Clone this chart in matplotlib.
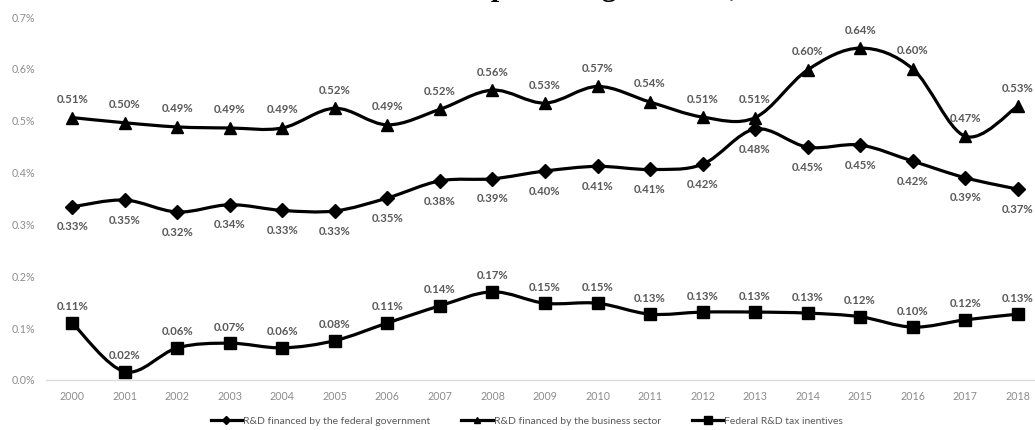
import numpy as np
import matplotlib
matplotlib.use("Agg")
import matplotlib.pyplot as plt
from matplotlib.path import Path
from matplotlib.patches import PathPatch
from matplotlib.lines import Line2D
from matplotlib.ticker import FuncFormatter

years = [str(y) for y in range(2000, 2019)]

# shares of GDP, in percent
gov = [0.334, 0.347, 0.324, 0.338, 0.327, 0.326, 0.351, 0.384, 0.388, 0.403,
       0.412, 0.406, 0.416, 0.484, 0.449, 0.453, 0.422, 0.390, 0.368]
business = [0.506, 0.496, 0.488, 0.486, 0.486, 0.524, 0.492, 0.522, 0.559, 0.534,
            0.566, 0.536, 0.507, 0.506, 0.598, 0.640, 0.600, 0.470, 0.528]
tax = [0.110, 0.016, 0.062, 0.071, 0.062, 0.076, 0.110, 0.143, 0.170, 0.148,
       0.148, 0.127, 0.131, 0.131, 0.129, 0.122, 0.102, 0.116, 0.127]

series_names = ["R&D financed by the federal government",
                "R&D financed by the business sector",
                "Federal R&D tax inentives"]

LABEL_FONT = "Lato"
LABEL_COLOR = "#595959"


def smooth_path(x, y):
    # smoothed line: bezier segments with catmull-rom style tangents
    pts = np.column_stack([x, y]).astype(float)
    n = len(pts)
    verts = [pts[0]]
    codes = [Path.MOVETO]
    for i in range(n - 1):
        p0 = pts[i - 1] if i > 0 else pts[i]
        p1 = pts[i]
        p2 = pts[i + 1]
        p3 = pts[i + 2] if i + 2 < n else pts[i + 1]
        verts += [p1 + (p2 - p0) / 6.0, p2 - (p3 - p1) / 6.0, p2]
        codes += [Path.CURVE4] * 3
    return Path(verts, codes)


fig = plt.figure(figsize=(10.35, 4.3), dpi=100)
ax = fig.add_axes([46 / 1035, 50 / 430, 998 / 1035, 363 / 430])

x = np.arange(len(years))
styles = [(gov, "D", 7, -14.5), (business, "^", 8, 13), (tax, "s", 8.5, 11.5)]
for vals, mk, ms, dy in styles:
    ax.add_patch(PathPatch(smooth_path(x, vals), fill=False, edgecolor="black",
                           lw=2.3, capstyle="round", joinstyle="round", zorder=3))
    ax.plot(x, vals, ls="none", marker=mk, ms=ms, color="black", zorder=4)
    for xi, v in zip(x, vals):
        ax.annotate(f"{v:.2f}%", (xi, v), xytext=(0, dy), textcoords="offset points",
                    ha="center", va="center", fontsize=8.2, fontweight="bold",
                    color=LABEL_COLOR, family=LABEL_FONT, zorder=5)

ax.set_xlim(-0.5, len(years) - 0.5)
ax.set_ylim(0, 0.7)
ax.set_xticks(x)
ax.set_xticklabels(years)
ax.set_yticks(np.arange(0, 0.71, 0.1))
ax.yaxis.set_major_formatter(FuncFormatter(lambda v, p: f"{v:.1f}%"))
for side in ["top", "right", "left"]:
    ax.spines[side].set_visible(False)
ax.spines["bottom"].set_color("#d9d9d9")
ax.spines["bottom"].set_linewidth(0.9)
ax.tick_params(axis="both", length=0, labelsize=7.7, labelcolor="#8c8c8c")
ax.tick_params(axis="y", pad=8)
ax.tick_params(axis="x", pad=8)
for lab in ax.get_xticklabels() + ax.get_yticklabels():
    lab.set_family(LABEL_FONT)

handles = [Line2D([], [], color="black", lw=2.3, marker="D", ms=4),
           Line2D([], [], color="black", lw=2.3, marker="^", ms=4.5),
           Line2D([], [], color="black", lw=2.3, marker="s", ms=6)]
leg = fig.legend(handles, series_names, loc="lower center", bbox_to_anchor=(0.509, -0.012),
                 ncol=3, frameon=False, handlelength=3.0, handletextpad=0.1,
                 columnspacing=3.0, prop={"family": LABEL_FONT, "size": 7.5})
for t in leg.get_texts():
    t.set_color(LABEL_COLOR)

# heading sits mostly above the canvas
fig.text(0.517, 1.0 + 4 / 430, "Total R&D financed as percentage of GDP, 2000\u20132018",
         ha="center", va="baseline", fontsize=21.5, fontweight="bold",
         family="Liberation Serif", color="black")

fig.savefig("out.png", dpi=100)
